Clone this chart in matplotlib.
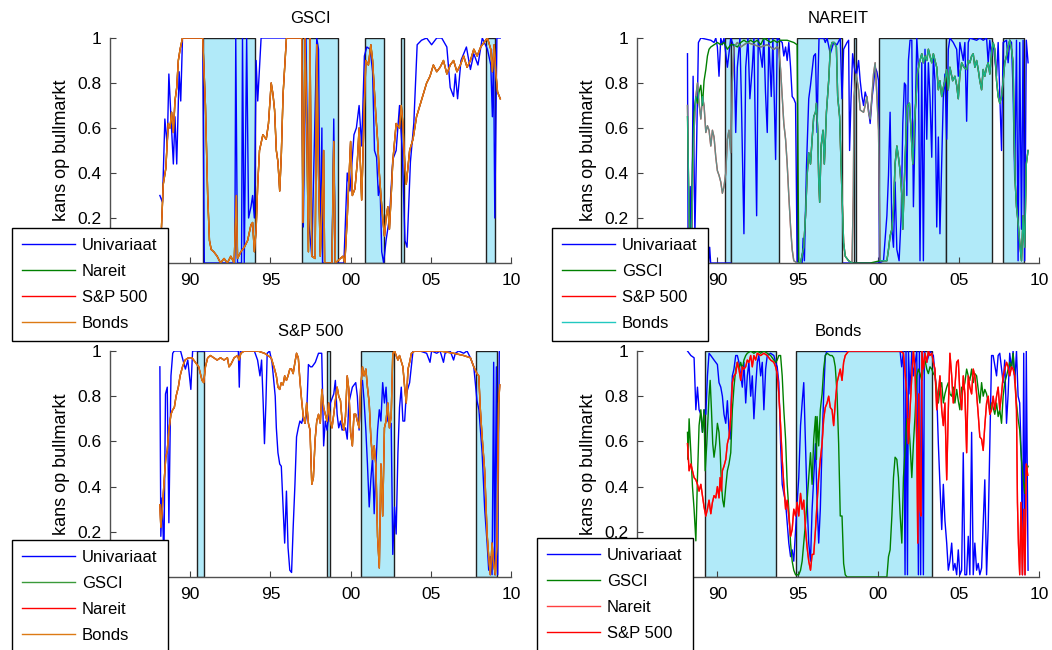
import numpy as np
import matplotlib
matplotlib.use("Agg")
import matplotlib.pyplot as plt

plt.rcParams['font.family'] = ['Liberation Sans', 'DejaVu Sans']

# ---------------- data (decimal year, probability of bull market) ----------------
years_ticks = [1990, 1995, 2000, 2005, 2010]
year_labels = ['90', '95', '00', '05', '10']
y_ticks = [0, 0.2, 0.4, 0.6, 0.8, 1.0]
y_labels = ['', '0.2', '0.4', '0.6', '0.8', '1']   # the 0 label sits behind the legend

# bear market periods (shaded)
gsci_bear = [(1990.78, 1994.04), (1996.95, 1999.2), (2000.91, 2002.06), (2003.16, 2003.31), (2008.44, 2009.03)]
nareit_bear = [(1990.47, 1990.86), (1990.86, 1993.82), (1994.93, 1997.73), (1998.47, 1998.64),
               (2000.08, 2004.19), (2004.19, 2007.05), (2007.77, 2009.07)]
sp_bear = [(1990.44, 1990.84), (1998.53, 1998.74), (2000.65, 2002.69), (2007.81, 2009.12)]
bonds_bear = [(1989.24, 1993.66), (1994.88, 2003.37)]

# GSCI panel
gsci_uni = [(1988.11,0.30),(1988.27,0.27),(1988.42,0.64),(1988.57,0.52),(1988.67,0.84),(1988.80,0.65),(1988.95,0.44),
    (1989.05,0.65),(1989.16,0.44),(1989.31,0.85),(1989.41,0.72),(1989.52,1.0),(1990.78,1.0),(1990.88,0.0),(1992.78,0.0),
    (1992.84,1.0),(1992.95,0.0),(1993.20,0.0),(1993.26,1.0),(1993.37,0.0),(1993.52,1.0),(1993.64,0.20),(1993.79,0.25),
    (1993.89,0.30),(1994.00,0.20),(1994.11,0.90),(1994.21,0.72),(1994.42,1.0),(1996.95,1.0),(1997.05,0.16),(1997.22,1.0),
    (1997.37,0.20),(1997.58,0.03),(1997.89,1.0),(1998.00,0.95),(1998.11,0.05),(1998.21,0.60),(1998.25,0.0),(1998.84,0.0),
    (1998.95,0.64),(1999.05,0.0),(1999.58,0.0),(1999.79,0.40),(1999.96,0.32),(2000.21,0.57),(2000.36,0.60),(2000.53,0.70),
    (2000.69,0.52),(2000.86,0.92),(2001.01,0.96),(2001.22,0.95),(2001.37,0.85),(2001.49,0.50),(2001.62,0.47),(2001.73,0.30),
    (2001.83,0.36),(2001.94,0.05),(2002.06,0.0),(2002.21,0.10),(2002.42,0.20),(2002.63,0.46),(2002.84,0.50),(2003.05,0.70),
    (2003.22,0.50),(2003.39,0.10),(2003.52,0.07),(2003.73,0.45),(2003.94,0.62),(2004.15,0.97),(2004.42,0.99),(2004.74,1.0),
    (2005.05,0.97),(2005.37,1.0),(2005.68,1.0),(2006.00,0.96),(2006.21,0.78),(2006.42,0.74),(2006.53,0.84),(2006.67,0.73),
    (2006.88,0.90),(2007.22,0.96),(2007.47,0.86),(2007.68,0.93),(2007.94,0.88),(2008.21,1.0),(2008.53,0.95),(2008.74,0.88),
    (2008.84,0.65),(2008.91,0.95),(2008.99,0.20),(2009.12,1.0),(2009.33,1.0)]
# Nareit, S&P 500 and Bonds models lie on top of each other in this panel
gsci_multi = [(1988.21,0.16),(1988.32,0.35),(1988.48,0.42),(1988.63,0.62),(1988.74,0.60),(1988.84,0.67),(1988.95,0.58),
    (1989.05,0.72),(1989.16,0.78),(1989.26,0.90),(1989.37,0.95),(1989.52,1.0),(1990.78,1.0),(1990.95,0.70),(1991.09,0.30),
    (1991.20,0.10),(1991.31,0.06),(1991.47,0.05),(1991.68,0.03),(1991.89,0.0),(1992.11,0.02),(1992.32,0.0),(1992.53,0.03),
    (1992.74,0.0),(1992.88,0.30),(1992.95,0.02),(1993.16,0.05),(1993.37,0.07),(1993.58,0.10),(1993.79,0.17),(1993.89,0.18),
    (1994.00,0.05),(1994.11,0.15),(1994.21,0.35),(1994.32,0.50),(1994.53,0.57),(1994.74,0.55),(1994.88,0.62),(1995.05,0.80),
    (1995.16,0.75),(1995.26,0.68),(1995.37,0.50),(1995.47,0.45),(1995.58,0.32),(1995.68,0.48),(1995.79,0.75),(1996.00,1.0),
    (1996.95,1.0),(1997.03,0.18),(1997.16,1.0),(1997.28,0.55),(1997.37,0.05),(1997.47,1.0),(1997.58,0.03),(1997.79,0.02),
    (1997.89,0.97),(1998.00,0.40),(1998.11,0.03),(1998.32,0.50),(1998.38,0.0),(1998.84,0.0),(1998.95,0.54),(1999.05,0.0),
    (1999.52,0.03),(1999.64,0.0),(1999.79,0.20),(2000.00,0.54),(2000.11,0.30),(2000.27,0.33),(2000.42,0.45),(2000.53,0.60),
    (2000.63,0.40),(2000.69,0.28),(2000.78,0.50),(2000.86,0.70),(2000.95,0.90),(2001.11,0.88),(2001.26,0.97),(2001.37,0.90),
    (2001.47,0.78),(2001.58,0.65),(2001.68,0.55),(2001.79,0.40),(2001.89,0.30),(2002.00,0.20),(2002.11,0.12),(2002.21,0.20),
    (2002.32,0.25),(2002.42,0.15),(2002.53,0.30),(2002.63,0.45),(2002.84,0.62),(2003.05,0.60),(2003.16,0.70),(2003.26,0.62),
    (2003.37,0.45),(2003.47,0.35),(2003.68,0.50),(2003.89,0.55),(2004.11,0.65),(2004.32,0.70),(2004.53,0.75),(2004.74,0.80),
    (2004.95,0.83),(2005.16,0.88),(2005.37,0.85),(2005.58,0.87),(2005.79,0.90),(2006.00,0.84),(2006.21,0.88),(2006.42,0.90),
    (2006.63,0.85),(2006.84,0.88),(2007.05,0.92),(2007.26,0.87),(2007.47,0.90),(2007.68,0.95),(2007.89,0.92),(2008.11,0.96),
    (2008.32,0.98),(2008.53,1.0),(2008.74,0.95),(2008.84,0.85),(2008.95,0.97),(2009.05,0.85),(2009.16,0.76),(2009.33,0.73)]

# NAREIT panel
nareit_uni = [(1988.14,0.93),(1988.18,0.0),(1988.31,0.34),(1988.39,0.0),(1988.49,0.83),(1988.60,0.13),(1988.70,0.50),
    (1988.82,0.98),(1988.97,1.0),(1989.59,0.99),(1989.79,0.98),(1989.90,1.0),(1990.00,0.96),(1990.10,0.83),(1990.21,1.0),
    (1990.31,0.97),(1990.41,1.0),(1990.62,0.87),(1990.83,1.0),(1991.03,0.96),(1991.14,0.58),(1991.24,0.87),(1991.40,1.0),
    (1991.49,0.73),(1991.65,0.13),(1991.76,0.87),(1991.90,1.0),(1992.02,0.73),(1992.17,0.87),(1992.27,1.0),(1992.44,0.21),
    (1992.54,1.0),(1992.79,0.87),(1992.89,1.0),(1992.99,0.76),(1993.10,0.58),(1993.20,1.0),(1993.35,0.74),(1993.45,1.0),
    (1993.62,0.46),(1993.72,1.0),(1994.03,0.98),(1994.13,0.92),(1994.24,0.96),(1994.34,0.90),(1994.44,0.98),(1994.55,0.87),
    (1994.65,0.74),(1994.75,0.73),(1994.86,0.71),(1994.96,0.0),(1995.27,0.0),(1995.33,0.11),(1995.41,0.01),(1995.54,0.43),
    (1995.68,0.73),(1995.79,0.79),(1995.99,0.92),(1996.10,0.93),(1996.20,0.58),(1996.26,0.83),(1996.32,1.0),(1996.61,1.0),
    (1996.71,0.98),(1996.82,1.0),(1997.02,0.93),(1997.23,0.98),(1997.44,0.97),(1997.64,1.0),(1997.75,0.73),(1997.85,0.95),
    (1998.06,0.98),(1998.16,0.99),(1998.22,0.50),(1998.31,0.73),(1998.41,0.93),(1998.51,0.87),(1998.64,0.83),(1998.78,0.90),
    (1998.88,0.81),(1998.99,0.74),(1999.09,0.70),(1999.19,0.76),(1999.30,0.73),(1999.40,0.68),(1999.50,0.62),(1999.61,0.73),
    (1999.71,0.79),(1999.81,0.87),(1999.92,0.85),(2000.02,0.81),(2000.08,0.0),(2000.33,0.01),(2000.54,0.21),(2000.64,0.39),
    (2000.74,0.67),(2000.85,0.15),(2000.95,0.07),(2001.05,0.36),(2001.16,0.06),(2001.30,0.01),(2001.43,0.21),(2001.53,0.62),
    (2001.63,0.80),(2001.71,0.79),(2001.78,0.30),(2001.88,0.90),(2001.98,0.99),(2002.09,0.99),(2002.19,0.25),(2002.29,0.59),
    (2002.40,1.0),(2002.50,0.87),(2002.60,0.01),(2002.71,0.89),(2002.81,0.01),(2002.91,0.95),(2003.02,0.55),(2003.12,0.89),
    (2003.22,0.74),(2003.33,0.47),(2003.43,0.92),(2003.53,0.81),(2003.64,0.16),(2003.74,0.56),(2003.84,0.13),(2003.95,0.44),
    (2004.05,0.74),(2004.15,0.84),(2004.26,0.55),(2004.36,0.95),(2004.46,1.0),(2004.67,0.98),(2004.88,0.95),(2004.98,0.83),
    (2005.08,0.98),(2005.29,0.90),(2005.39,0.98),(2005.50,0.63),(2005.60,0.98),(2005.70,1.0),(2006.12,0.99),(2006.32,1.0),
    (2006.53,0.99),(2006.74,1.0),(2006.84,0.89),(2006.94,0.99),(2007.05,0.92),(2007.15,0.98),(2007.36,0.83),(2007.46,0.98),
    (2007.67,0.50),(2007.77,0.98),(2007.98,0.99),(2008.08,0.89),(2008.18,0.99),(2008.29,0.98),(2008.39,0.76),(2008.49,0.37),
    (2008.60,0.99),(2008.70,0.01),(2008.80,0.98),(2008.91,0.15),(2009.01,0.99),(2009.11,0.01),(2009.21,0.99),(2009.32,0.89)]
# second blue trace lying on the zero line
nareit_uni_floor = [(1988.60,0.0),(1989.45,0.0),(1989.52,0.07),(1989.58,0.0),(1990.83,0.0),(1990.84,np.nan),
    (1997.84,np.nan),(1997.85,0.0),(2000.08,0.0)]
nareit_gsci_early = [(1988.14,0.65),(1988.24,0.22),(1988.35,0.01),(1988.45,0.44),(1988.55,0.67),(1988.66,0.74),
    (1988.76,0.71),(1988.86,0.76),(1988.97,0.79),(1989.07,0.70),(1989.17,0.81),(1989.28,0.86),(1989.38,0.92),(1989.48,0.95),
    (1989.59,0.96),(1989.79,0.97),(1990.00,0.98),(1990.21,0.97),(1990.41,0.98),(1990.62,0.95),(1990.83,0.97),(1991.03,0.97),
    (1991.24,0.96),(1991.45,0.98),(1991.65,0.99),(1991.86,0.98),(1992.07,0.99),(1992.27,0.98),(1992.48,0.99),(1992.69,0.97),
    (1992.89,1.0),(1993.10,0.99),(1993.31,0.98),(1993.51,0.99),(1993.72,0.98),(1993.93,0.99),(1994.34,0.99),(1994.75,0.98),
    (1994.96,0.97),(1995.06,0.0),(1995.17,0.0)]
nareit_sp_early = [(1988.14,0.70),(1988.24,0.15),(1988.35,0.01),(1988.45,0.30),(1988.55,0.59),(1988.66,0.74),(1988.76,0.80),
    (1988.86,0.71),(1988.97,0.64),(1989.07,0.74),(1989.17,0.70),(1989.28,0.58),(1989.38,0.61),(1989.48,0.59),(1989.59,0.52),
    (1989.69,0.59),(1989.79,0.56),(1989.90,0.47),(1990.00,0.41),(1990.10,0.39),(1990.21,0.36),(1990.31,0.31),(1990.41,0.34),
    (1990.52,0.40),(1990.62,0.55),(1990.72,0.59),(1990.83,0.49),(1990.93,0.81),(1991.03,0.96),(1991.24,0.98),(1991.45,0.96),
    (1991.86,0.98),(1992.27,0.97),(1992.69,0.96),(1993.10,0.97),(1993.51,0.95),(1993.72,0.96),(1993.82,0.95),(1993.93,0.86),
    (1994.03,0.74),(1994.13,0.62),(1994.24,0.55),(1994.34,0.44),(1994.44,0.30),(1994.55,0.16),(1994.65,0.06),(1994.75,0.01),
    (1994.96,0.0),(1995.17,0.0)]
nareit_mid = [(1995.37,0.07),(1995.48,0.21),(1995.58,0.39),(1995.68,0.49),(1995.79,0.44),(1995.89,0.55),(1995.99,0.65),
    (1996.10,0.67),(1996.16,0.71),(1996.24,0.59),(1996.30,0.37),(1996.36,0.27),(1996.45,0.52),(1996.57,0.59),(1996.65,0.44),
    (1996.78,0.67),(1996.92,0.81),(1997.02,0.95),(1997.13,0.98),(1997.27,0.98),(1997.40,0.96),(1997.48,0.74),(1997.60,0.65),
    (1997.75,0.30),(1997.85,0.09),(1997.95,0.03),(1998.16,0.01),(1998.37,0.0)]
nareit_gsci_gap = [(1999.50,0.0), (2000.12,0.01)]
nareit_sp_gap = [(1998.45,0.30),(1998.50,0.74),(1998.63,0.84),(1998.78,0.77),(1998.88,0.68),(1999.09,0.67),(1999.19,0.70),
    (1999.30,0.74),(1999.40,0.67),(1999.50,0.64),(1999.61,0.74),(1999.71,0.84),(1999.81,0.89),(1999.92,0.74),(2000.02,0.59),
    (2000.12,0.01)]
nareit_late = [(2000.33,0.01),(2000.54,0.01),(2000.64,0.06),(2000.74,0.12),(2000.85,0.15),(2000.95,0.24),(2001.05,0.44),
    (2001.16,0.52),(2001.26,0.47),(2001.36,0.41),(2001.47,0.30),(2001.53,0.15),(2001.61,0.33),(2001.74,0.59),(2001.82,0.70),
    (2001.94,0.71),(2002.02,0.62),(2002.15,0.44),(2002.25,0.62),(2002.36,0.74),(2002.44,0.84),(2002.56,0.89),(2002.71,0.93),
    (2002.81,0.89),(2002.91,0.92),(2003.02,0.90),(2003.12,0.95),(2003.22,0.92),(2003.33,0.89),(2003.43,0.93),(2003.53,0.90),
    (2003.64,0.87),(2003.74,0.77),(2003.84,0.81),(2003.95,0.74),(2004.05,0.78),(2004.15,0.81),(2004.26,0.86),(2004.36,0.77),
    (2004.46,0.87),(2004.63,0.81),(2004.77,0.83),(2004.88,0.79),(2004.98,0.73),(2005.08,0.84),(2005.19,0.89),(2005.33,0.87),
    (2005.50,0.86),(2005.60,0.90),(2005.70,0.89),(2005.81,0.92),(2005.91,0.93),(2006.01,0.87),(2006.12,0.90),(2006.22,0.86),
    (2006.32,0.81),(2006.43,0.77),(2006.53,0.86),(2006.63,0.83),(2006.74,0.87),(2006.84,0.89),(2006.94,0.84),(2007.05,0.93),
    (2007.15,0.98),(2007.25,0.95),(2007.36,0.81),(2007.46,0.74),(2007.56,0.71),(2007.67,0.74),(2007.77,0.81),(2007.87,0.89),
    (2007.98,0.92),(2008.08,0.96),(2008.18,0.99),(2008.29,0.95),(2008.39,0.89),(2008.45,0.59),(2008.51,0.37),(2008.60,0.25),
    (2008.70,0.18),(2008.80,0.09),(2008.91,0.01),(2009.01,0.21),(2009.11,0.07),(2009.21,0.44),(2009.32,0.50)]
nareit_gsci = nareit_gsci_early + nareit_mid + nareit_gsci_gap + nareit_late
nareit_sp = nareit_sp_early + nareit_mid + nareit_sp_gap + nareit_late

# S&P 500 panel
sp_uni = [(1988.11,0.93),(1988.17,0.18),(1988.25,0.35),(1988.36,0.07),(1988.46,0.81),(1988.57,0.84),(1988.67,0.24),
    (1988.80,0.89),(1988.91,0.99),(1989.00,1.0),(1989.40,1.0),(1989.55,0.96),(1989.70,0.92),(1989.85,0.96),(1990.04,0.83),
    (1990.15,1.0),(1993.00,1.0),(1993.06,0.84),(1993.12,1.0),(1994.00,1.0),(1994.20,0.96),(1994.35,0.89),(1994.45,0.96),
    (1994.55,0.77),(1994.63,0.59),(1994.72,0.77),(1994.80,0.99),(1994.95,1.0),(1995.10,0.95),(1995.30,0.80),(1995.37,0.66),
    (1995.47,0.55),(1995.58,0.50),(1995.68,0.49),(1995.79,0.31),(1995.89,0.15),(1996.00,0.38),(1996.10,0.13),(1996.21,0.03),
    (1996.32,0.02),(1996.42,0.22),(1996.53,0.41),(1996.63,0.62),(1996.74,0.66),(1996.84,0.69),(1996.95,0.68),(1997.05,0.71),
    (1997.16,0.68),(1997.26,0.72),(1997.37,0.94),(1997.50,0.93),(1997.60,0.93),(1997.80,0.95),(1998.00,0.99),(1998.20,0.99),
    (1998.32,0.58),(1998.42,0.69),(1998.53,0.65),(1998.74,0.77),(1998.95,0.81),(1999.05,0.87),(1999.16,0.72),(1999.26,0.66),
    (1999.37,0.69),(1999.47,0.65),(1999.68,0.66),(1999.79,0.61),(1999.89,0.77),(2000.11,0.84),(2000.32,0.86),(2000.42,0.80),
    (2000.53,0.65),(2000.65,0.84),(2000.74,0.87),(2000.84,0.78),(2000.95,0.65),(2001.05,0.50),(2001.16,0.31),(2001.26,0.43),
    (2001.37,0.53),(2001.47,0.28),(2001.58,0.50),(2001.68,0.65),(2001.79,0.74),(2001.89,0.69),(2002.00,0.86),(2002.11,0.77),
    (2002.21,0.84),(2002.32,0.69),(2002.42,0.68),(2002.53,0.68),(2002.63,0.10),(2002.74,0.31),(2002.84,0.19),(2002.95,0.55),
    (2003.05,0.75),(2003.16,0.84),(2003.26,0.69),(2003.37,0.69),(2003.47,0.81),(2003.68,0.86),(2003.89,1.0),(2004.32,1.0),
    (2004.74,0.99),(2004.95,0.95),(2005.05,1.0),(2005.37,0.99),(2005.58,1.0),(2005.79,0.95),(2005.89,0.99),(2006.21,1.0),
    (2006.42,0.96),(2006.53,0.99),(2006.74,1.0),(2007.05,0.99),(2007.26,1.0),(2007.47,0.97),(2007.68,0.93),(2007.88,0.78),
    (2008.00,0.74),(2008.20,0.55),(2008.36,0.30),(2008.51,0.15),(2008.61,0.03),(2008.71,0.09),(2008.82,0.01),(2008.92,0.95),
    (2008.98,0.01),(2009.09,0.93),(2009.17,0.01),(2009.27,1.0)]
# GSCI, Nareit and Bonds models coincide in this panel
sp_multi = [(1988.11,0.32),(1988.17,0.22),(1988.27,0.31),(1988.38,0.43),(1988.48,0.53),(1988.57,0.56),(1988.67,0.65),
    (1988.80,0.72),(1988.91,0.74),(1989.01,0.75),(1989.12,0.80),(1989.26,0.84),(1989.37,0.89),(1989.52,0.93),(1989.68,0.96),
    (1989.89,0.97),(1990.11,0.97),(1990.32,0.95),(1990.53,0.93),(1990.74,0.87),(1990.84,0.86),(1990.95,0.93),(1991.09,0.97),
    (1991.26,0.98),(1991.47,0.97),(1991.68,0.96),(1991.89,0.97),(1992.11,0.96),(1992.32,0.97),(1992.42,0.93),(1992.53,0.94),
    (1992.74,0.97),(1992.95,0.98),(1993.05,0.96),(1993.16,0.99),(1993.37,1.0),(1993.79,1.0),(1994.21,1.0),(1994.63,0.99),
    (1994.84,0.98),(1995.05,0.97),(1995.26,0.92),(1995.37,0.89),(1995.47,0.84),(1995.58,0.83),(1995.68,0.86),(1995.79,0.85),
    (1995.89,0.89),(1996.00,0.87),(1996.10,0.89),(1996.21,0.92),(1996.32,0.92),(1996.42,0.90),(1996.53,0.95),(1996.63,0.99),
    (1996.74,0.97),(1996.84,0.87),(1996.95,0.78),(1997.05,0.71),(1997.16,0.68),(1997.26,0.77),(1997.37,0.68),(1997.47,0.65),
    (1997.58,0.41),(1997.68,0.44),(1997.79,0.61),(1997.89,0.69),(1998.00,0.72),(1998.11,0.68),(1998.21,0.83),(1998.32,0.75),
    (1998.42,0.72),(1998.53,0.69),(1998.63,0.77),(1998.74,0.69),(1998.84,0.66),(1998.95,0.72),(1999.05,0.78),(1999.16,0.84),
    (1999.26,0.80),(1999.37,0.78),(1999.47,0.69),(1999.58,0.65),(1999.68,0.71),(1999.79,0.89),(1999.89,0.83),(2000.00,0.64),
    (2000.11,0.58),(2000.21,0.72),(2000.32,0.72),(2000.42,0.69),(2000.53,0.66),(2000.63,0.84),(2000.74,0.93),(2000.84,0.89),
    (2000.95,0.92),(2001.05,0.84),(2001.16,0.77),(2001.26,0.62),(2001.37,0.52),(2001.47,0.58),(2001.58,0.49),(2001.68,0.18),
    (2001.79,0.04),(2001.89,0.50),(2002.00,0.27),(2002.11,0.66),(2002.21,0.69),(2002.32,0.77),(2002.42,0.66),(2002.53,0.71),
    (2002.63,0.99),(2002.74,1.0),(2002.84,0.98),(2002.95,0.96),(2003.05,0.98),(2003.26,0.93),(2003.37,0.84),(2003.47,0.77),
    (2003.58,0.92),(2003.68,0.95),(2003.79,0.99),(2004.00,1.0),(2004.74,1.0),(2005.58,1.0),(2006.42,0.99),(2007.05,0.98),
    (2007.47,0.97),(2007.68,0.93),(2007.88,0.90),(2007.99,0.89),(2008.09,0.74),(2008.20,0.62),(2008.36,0.47),(2008.51,0.19),
    (2008.61,0.09),(2008.71,0.01),(2008.82,0.15),(2008.92,0.06),(2009.02,0.01),(2009.13,0.15),(2009.23,0.77),(2009.30,0.85)]

# Bonds panel
bonds_uni = [(1988.14,1.0),(1988.35,0.98),(1988.55,0.97),(1988.66,0.74),(1988.76,0.84),(1988.86,0.74),(1988.97,0.72),
    (1989.07,0.64),(1989.17,0.74),(1989.28,0.72),(1989.38,0.89),(1989.48,0.99),(1989.59,0.98),(1989.79,0.96),(1990.00,0.94),
    (1990.10,0.86),(1990.21,0.84),(1990.31,0.80),(1990.41,0.72),(1990.52,0.68),(1990.62,0.78),(1990.72,0.65),(1990.79,0.61),
    (1990.87,0.80),(1990.93,0.89),(1991.03,0.92),(1991.14,0.98),(1991.24,0.98),(1991.34,0.95),(1991.45,0.89),(1991.55,0.84),
    (1991.65,0.95),(1991.76,0.77),(1991.86,0.89),(1991.96,0.95),(1992.07,0.80),(1992.17,0.89),(1992.27,0.70),(1992.38,0.84),
    (1992.48,0.95),(1992.58,0.98),(1992.69,0.89),(1992.79,0.95),(1992.89,0.74),(1993.00,0.92),(1993.10,0.98),(1993.31,0.99),
    (1993.51,0.98),(1993.62,0.95),(1993.72,0.93),(1993.82,0.86),(1993.93,0.59),(1994.03,0.41),(1994.13,0.37),(1994.24,0.33),
    (1994.34,0.24),(1994.44,0.15),(1994.55,0.09),(1994.65,0.12),(1994.75,0.07),(1994.86,0.21),(1994.96,0.33),(1995.06,0.44),
    (1995.17,0.67),(1995.27,0.77),(1995.37,0.86),(1995.48,0.59),(1995.58,0.33),(1995.68,0.15),(1995.79,0.07),(1995.89,0.30),
    (1995.99,0.44),(1996.10,0.59),(1996.20,0.33),(1996.30,0.15),(1996.40,0.30),(1996.51,0.59),(1996.61,0.81),(1996.71,0.98),
    (1996.82,1.0),(2001.36,1.0),(2001.46,0.93),(2001.57,1.0),(2001.67,0.01),(2001.73,1.0),(2001.82,0.01),(2001.88,1.0),
    (2001.98,0.81),(2002.09,1.0),(2002.19,0.89),(2002.40,1.0),(2002.50,0.01),(2002.56,1.0),(2002.64,0.01),(2002.71,1.0),
    (2002.81,0.01),(2002.87,1.0),(2003.02,0.95),(2003.22,1.0),(2003.43,0.98),(2003.53,0.90),(2003.64,0.81),(2003.74,0.59),
    (2003.84,0.41),(2003.95,0.21),(2004.05,0.41),(2004.15,0.25),(2004.26,0.15),(2004.36,0.03),(2004.46,0.07),(2004.57,0.15),
    (2004.67,0.03),(2004.77,0.06),(2004.88,0.01),(2004.98,0.12),(2005.08,0.01),(2005.19,0.03),(2005.29,0.55),(2005.39,0.01),
    (2005.50,0.01),(2005.60,0.18),(2005.70,0.01),(2005.81,0.64),(2005.91,0.01),(2006.01,0.15),(2006.12,0.03),(2006.22,0.06),
    (2006.32,0.01),(2006.43,0.04),(2006.63,0.43),(2006.74,0.01),(2006.84,0.22),(2006.94,0.59),(2007.05,0.98),(2007.15,0.98),
    (2007.36,0.89),(2007.46,0.98),(2007.56,0.99),(2007.77,0.86),(2007.87,0.96),(2007.98,0.68),(2008.08,0.81),(2008.18,0.99),
    (2008.29,0.92),(2008.39,1.0),(2008.49,0.86),(2008.60,1.0),(2008.70,0.80),(2008.80,0.77),(2008.91,0.50),(2008.97,0.01),
    (2009.05,0.99),(2009.13,0.01),(2009.21,1.0),(2009.32,0.03)]
bonds_gsci = [(1988.14,0.64),(1988.18,0.52),(1988.24,0.70),(1988.35,0.55),(1988.45,0.40),(1988.55,0.30),(1988.66,0.16),
    (1988.76,0.44),(1988.86,0.67),(1988.97,0.74),(1989.07,0.64),(1989.17,0.74),(1989.24,0.47),(1989.34,0.59),(1989.48,0.80),
    (1989.55,0.87),(1989.63,0.74),(1989.71,0.59),(1989.79,0.53),(1989.90,0.59),(1990.00,0.68),(1990.10,0.64),(1990.17,0.56),
    (1990.25,0.41),(1990.33,0.34),(1990.41,0.31),(1990.52,0.40),(1990.62,0.47),(1990.72,0.50),(1990.83,0.55),(1990.93,0.74),
    (1991.03,0.84),(1991.14,0.92),(1991.24,0.95),(1991.34,0.92),(1991.45,0.95),(1991.55,0.92),(1991.65,0.96),(1991.76,0.98),
    (1991.86,0.99),(1992.07,1.0),(1992.27,0.99),(1992.48,1.0),(1992.69,0.99),(1992.89,1.0),(1993.10,0.99),(1993.31,0.98),
    (1993.51,0.96),(1993.62,0.95),(1993.72,0.96),(1993.82,0.98),(1993.93,0.98),(1994.03,0.89),(1994.13,0.74),(1994.24,0.61),
    (1994.34,0.41),(1994.44,0.30),(1994.55,0.15),(1994.65,0.07),(1994.75,0.03),(1994.86,0.01),(1995.06,0.01),(1995.17,0.03),
    (1995.27,0.07),(1995.37,0.15),(1995.48,0.24),(1995.58,0.34),(1995.68,0.44),(1995.79,0.55),(1995.89,0.41),(1995.99,0.61),
    (1996.10,0.71),(1996.16,0.52),(1996.20,0.71),(1996.30,0.58),(1996.40,0.74),(1996.51,0.81),(1996.61,0.92),(1996.71,0.98),
    (1996.82,0.99),(1997.02,0.98),(1997.13,0.98),(1997.23,0.97),(1997.33,0.93),(1997.44,0.81),(1997.54,0.59),(1997.64,0.27),
    (1997.75,0.27),(1997.85,0.06),(1997.95,0.01),(1998.06,0.0),(2000.54,0.0),(2000.64,0.09),(2000.74,0.12),(2000.85,0.27),
    (2000.95,0.44),(2001.05,0.53),(2001.16,0.52),(2001.26,0.44),(2001.36,0.28),(2001.47,0.15),(2001.57,0.44),(2001.78,0.70),
    (2001.88,0.70),(2001.98,0.59),(2002.09,0.44),(2002.19,0.59),(2002.29,0.71),(2002.40,0.89),(2002.50,0.92),(2002.60,0.90),
    (2002.71,0.87),(2002.81,0.93),(2002.91,0.96),(2003.02,0.92),(2003.12,0.90),(2003.22,0.93),(2003.33,0.92),(2003.43,0.90),
    (2003.53,0.89),(2003.64,0.83),(2003.74,0.77),(2003.84,0.83),(2003.95,0.86),(2004.05,0.77),(2004.15,0.81),(2004.26,0.84),
    (2004.36,0.86),(2004.46,0.81),(2004.57,0.80),(2004.67,0.84),(2004.77,0.77),(2004.88,0.83),(2004.98,0.78),(2005.08,0.74),
    (2005.19,0.84),(2005.29,0.83),(2005.39,0.86),(2005.50,0.92),(2005.60,0.89),(2005.70,0.87),(2005.81,0.92),(2005.91,0.86),
    (2006.01,0.90),(2006.12,0.89),(2006.22,0.83),(2006.32,0.77),(2006.43,0.86),(2006.53,0.80),(2006.63,0.83),(2006.74,0.81),
    (2006.84,0.77),(2006.94,0.74),(2007.05,0.77),(2007.15,0.75),(2007.25,0.72),(2007.36,0.77),(2007.46,0.71),(2007.56,0.74),
    (2007.67,0.68),(2007.77,0.80),(2007.87,0.86),(2007.98,0.89),(2008.08,0.92),(2008.18,0.95),(2008.29,0.92),(2008.39,0.99),
    (2008.49,0.89),(2008.60,0.77),(2008.70,0.70),(2008.80,0.65),(2008.91,0.52),(2009.01,0.44),(2009.11,0.37),(2009.21,0.47),
    (2009.32,0.49)]
# Nareit and S&P 500 models coincide in this panel
bonds_eq = [(1988.14,0.59),(1988.24,0.47),(1988.35,0.50),(1988.45,0.47),(1988.55,0.44),(1988.66,0.43),(1988.76,0.41),
    (1988.86,0.38),(1988.97,0.41),(1989.07,0.36),(1989.17,0.31),(1989.28,0.27),(1989.38,0.30),(1989.48,0.34),(1989.59,0.28),
    (1989.69,0.33),(1989.79,0.36),(1989.90,0.35),(1990.00,0.40),(1990.10,0.35),(1990.17,0.44),(1990.25,0.38),(1990.31,0.47),
    (1990.41,0.49),(1990.52,0.52),(1990.62,0.59),(1990.72,0.62),(1990.83,0.71),(1990.93,0.86),(1991.03,0.89),(1991.14,0.90),
    (1991.24,0.95),(1991.34,0.92),(1991.45,0.87),(1991.55,0.93),(1991.65,0.92),(1991.76,0.93),(1991.86,0.96),(1991.96,0.95),
    (1992.07,0.98),(1992.17,0.93),(1992.27,0.98),(1992.38,0.96),(1992.48,0.99),(1992.69,0.98),(1992.89,0.99),(1993.10,0.98),
    (1993.31,0.96),(1993.51,0.95),(1993.62,0.93),(1993.72,0.90),(1993.82,0.81),(1993.93,0.67),(1994.03,0.52),(1994.13,0.41),
    (1994.24,0.30),(1994.34,0.34),(1994.44,0.27),(1994.55,0.18),(1994.65,0.21),(1994.75,0.30),(1994.86,0.27),(1994.96,0.33),
    (1995.06,0.27),(1995.17,0.37),(1995.27,0.30),(1995.37,0.34),(1995.48,0.21),(1995.58,0.13),(1995.68,0.07),(1995.79,0.03),
    (1995.89,0.10),(1995.99,0.10),(1996.10,0.21),(1996.20,0.33),(1996.30,0.44),(1996.40,0.52),(1996.51,0.59),(1996.61,0.70),
    (1996.71,0.75),(1996.82,0.77),(1996.92,0.80),(1997.02,0.75),(1997.13,0.74),(1997.23,0.67),(1997.33,0.77),(1997.44,0.86),
    (1997.54,0.89),(1997.64,0.92),(1997.75,0.87),(1997.85,0.95),(1997.95,0.98),(1998.16,1.0),(2001.36,1.0),(2001.57,0.99),
    (2001.78,0.81),(2001.88,0.59),(2001.98,0.74),(2002.09,0.89),(2002.19,1.0),(2002.29,0.92),(2002.40,0.59),(2002.46,0.15),
    (2002.52,0.81),(2002.60,0.30),(2002.66,0.27),(2002.72,1.0),(2002.81,0.92),(2002.91,0.99),(2003.02,0.95),(2003.12,1.0),
    (2003.22,0.98),(2003.33,0.99),(2003.43,0.95),(2003.53,0.92),(2003.64,0.74),(2003.74,0.81),(2003.84,0.89),(2003.95,0.74),
    (2004.05,0.67),(2004.15,0.77),(2004.26,0.43),(2004.36,0.74),(2004.46,0.99),(2004.57,0.89),(2004.67,0.77),(2004.77,0.84),
    (2004.88,0.95),(2004.98,0.96),(2005.08,0.81),(2005.19,0.74),(2005.29,0.89),(2005.39,0.81),(2005.50,0.55),(2005.60,0.89),
    (2005.70,0.84),(2005.81,0.81),(2005.91,0.92),(2006.01,0.89),(2006.12,0.81),(2006.22,0.72),(2006.32,0.62),(2006.43,0.61),
    (2006.53,0.56),(2006.63,0.67),(2006.74,0.77),(2006.84,0.80),(2006.94,0.72),(2007.05,0.74),(2007.15,0.80),(2007.25,0.74),
    (2007.36,0.80),(2007.46,0.84),(2007.56,0.74),(2007.67,0.81),(2007.77,0.89),(2007.87,0.92),(2007.98,0.95),(2008.08,0.93),
    (2008.18,0.89),(2008.29,0.93),(2008.39,0.92),(2008.49,0.89),(2008.60,0.74),(2008.66,0.33),(2008.72,0.15),(2008.80,0.01),
    (2008.88,0.33),(2008.97,0.01),(2009.05,0.30),(2009.13,0.01),(2009.21,0.50),(2009.30,0.45)]

# ---------------- drawing ----------------
BLUE = '#0000ff'
GREEN = '#008000'
RED = '#ff0000'
ORANGE = '#dc7a14'
CYAN = '#22c8c0'
SHADE = '#b1eaf9'

fig = plt.figure(figsize=(10.52, 6.5), dpi=100)

W, H = 1052.0, 650.0
rects = {
    'gsci': [110 / W, 1 - 263 / H, 401 / W, 225 / H],
    'nareit': [637 / W, 1 - 263 / H, 402 / W, 225 / H],
    'sp': [110 / W, 1 - 577 / H, 401 / W, 226 / H],
    'bonds': [637 / W, 1 - 577 / H, 402 / W, 226 / H],
}
legend_corner = {
    'gsci': (12 / W, 1 - 228 / H),
    'nareit': (552 / W, 1 - 228 / H),
    'sp': (12 / W, 1 - 540 / H),
    'bonds': (537 / W, 1 - 538 / H),
}


def series(pairs):
    x, y = zip(*pairs)
    return np.array(x, dtype=float), np.array(y, dtype=float)


def panel(key, title, bears, lines, legend_order):
    ax = fig.add_axes(rects[key])
    for a, b in bears:
        ax.axvspan(a, b, facecolor=SHADE, edgecolor='#202020', lw=1.0, zorder=1)
    handles = {}
    for pairs, color, label, alpha in lines:
        x, y = series(pairs)
        h, = ax.plot(x, y, color=color, lw=1.0, alpha=alpha, zorder=3,
                     label=label if label else '_nolegend_')
        if label:
            handles[label] = h
    ax.set_xlim(1985, 2010)
    ax.set_ylim(0, 1)
    ax.set_xticks(years_ticks)
    ax.set_xticklabels(year_labels)
    ax.set_yticks(y_ticks)
    ax.set_yticklabels(y_labels)
    ax.tick_params(direction='in', length=4, width=0.8, labelsize=12.5, color='#404040')
    ax.tick_params(axis='x', pad=7)
    ax.tick_params(axis='y', pad=6)
    for s in ['top', 'right']:
        ax.spines[s].set_visible(False)
    for s in ['left', 'bottom']:
        ax.spines[s].set_color('#505050')
        ax.spines[s].set_linewidth(1.0)
        ax.spines[s].set_zorder(4)
    ax.set_title(title, fontsize=12, pad=11)
    ax.set_ylabel('kans op bullmarkt', fontsize=13)
    ax.yaxis.set_label_coords(-40 / 401, 0.5)
    leg = ax.legend(handles=[handles[n] for n in legend_order], loc='upper left',
                    bbox_to_anchor=legend_corner[key], bbox_transform=fig.transFigure,
                    fontsize=12, frameon=True, fancybox=False, framealpha=1, edgecolor='black',
                    borderpad=0.6, labelspacing=0.66, handlelength=3.2, handletextpad=0.4,
                    borderaxespad=0)
    leg.get_frame().set_linewidth(1.0)
    for lh in leg.get_lines():
        lh.set_alpha(1)
    leg.set_zorder(10)
    return ax


panel('gsci', 'GSCI', gsci_bear, [
    (gsci_uni, BLUE, 'Univariaat', 1),
    (gsci_multi, GREEN, 'Nareit', 1),
    (gsci_multi, RED, 'S&P 500', 1),
    (gsci_multi, ORANGE, 'Bonds', 1),
], ['Univariaat', 'Nareit', 'S&P 500', 'Bonds'])
panel('nareit', 'NAREIT', nareit_bear, [
    (nareit_uni, BLUE, 'Univariaat', 1),
    (nareit_uni_floor, BLUE, None, 1),
    (nareit_sp, RED, 'S&P 500', 1),
    (nareit_gsci, GREEN, 'GSCI', 1),
    (nareit_sp, CYAN, 'Bonds', 0.7),
], ['Univariaat', 'GSCI', 'S&P 500', 'Bonds'])
panel('sp', 'S&P 500', sp_bear, [
    (sp_uni, BLUE, 'Univariaat', 1),
    (sp_multi, '#3a9a3a', 'GSCI', 1),
    (sp_multi, RED, 'Nareit', 1),
    (sp_multi, ORANGE, 'Bonds', 1),
], ['Univariaat', 'GSCI', 'Nareit', 'Bonds'])
panel('bonds', 'Bonds', bonds_bear, [
    (bonds_uni, BLUE, 'Univariaat', 1),
    (bonds_gsci, GREEN, 'GSCI', 1),
    (bonds_eq, '#ff4040', 'Nareit', 1),
    (bonds_eq, RED, 'S&P 500', 1),
], ['Univariaat', 'GSCI', 'Nareit', 'S&P 500'])

fig.savefig('out.png', dpi=100)
